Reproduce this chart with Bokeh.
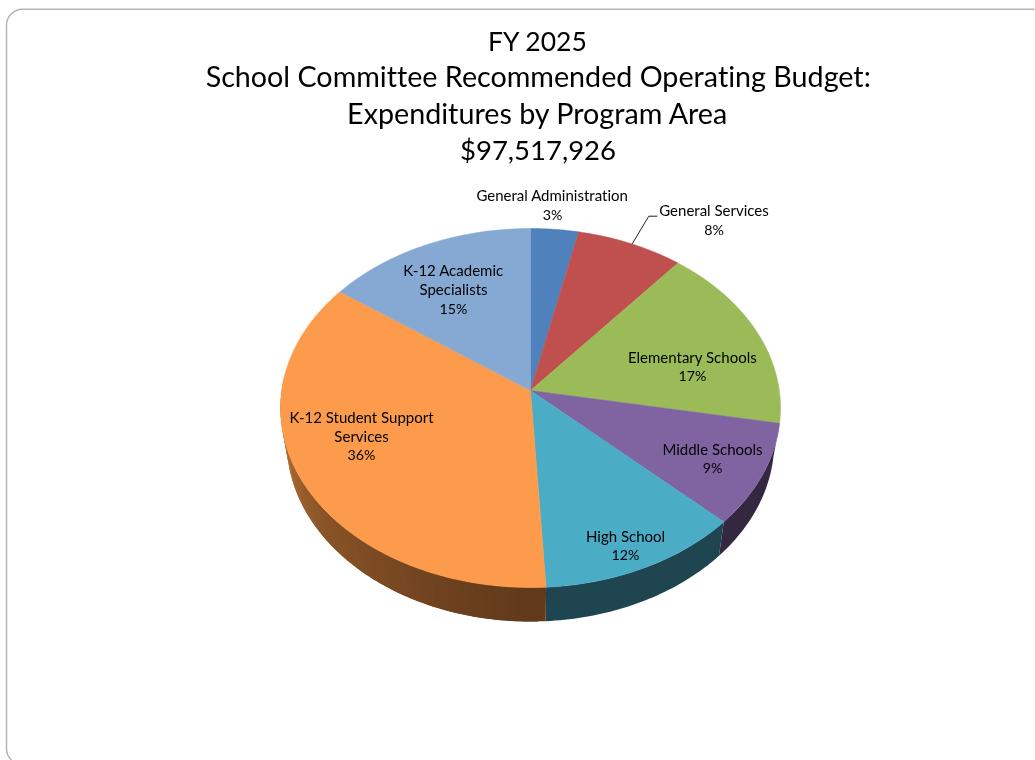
import math
from bokeh.plotting import figure
from bokeh.models import ColumnDataSource, Range1d
from bokeh.core.properties import value
from bokeh.embed import file_html
from bokeh.resources import INLINE

# ---- data ----
title_lines = ["FY 2025", "School Committee Recommended Operating Budget:",
               "Expenditures by Program Area", "$97,517,926"]
categories = ["General Administration", "General Services", "Elementary Schools", "Middle Schools",
              "High School", "K-12 Student Support Services", "K-12 Academic Specialists"]
shares = [3.4, 7.6, 16.9, 9.2, 12.0, 35.9, 15.0]

# ---- styles / layout ----
top_colors = ["#4f81bd", "#c0504d", "#9bbb59", "#8064a2", "#4bacc6", "#fc9b4b", "#86a9d4"]
side_stops = {3: [("#332840", 0.0), ("#332840", 1.0)],
              4: [("#1f4650", 0.0), ("#1f4650", 1.0)],
              5: [("#613a1b", 0.0), ("#6a3f1d", 0.15), ("#8a5428", 0.55), ("#a86830", 0.75), ("#c8803c", 1.0)]}
label_breaks = [["General Administration"], ["General Services"], ["Elementary Schools"], ["Middle Schools"],
                ["High School"], ["K-12 Student Support", "Services"], ["K-12 Academic", "Specialists"]]
label_x = [552, 713.5, 692, 712, 625, 361, 453]
label_y = [[194, 213.5], [209, 229], [356, 375], [448, 467], [535, 554], [416, 435, 454], [269, 288.5, 308]]
title_y = [40.5, 75.5, 112.5, 148.5]
title_px = [26.5, 28.7, 28.7, 27.5]
FONT = "Lato"
NAME_PX, PCT_PX = 15.0, 14.2

CX, CY, AY, BX, K, DEPTH, SHRINK = 530, 390, 177.8, 248.8, 0.0975, 34, 0.975


def project(frac):
    th = 2 * math.pi * frac
    u, v = math.sin(th), -math.cos(th)
    d = 1 - K * v
    return CX + BX * u / d, CY + AY * v / d


def lower(x, y):
    return CX + (x - CX) * SHRINK, y + DEPTH


def hex2rgb(h):
    return tuple(int(h[i:i + 2], 16) for i in (1, 3, 5))


def ramp(stops, t):
    for (c0, t0), (c1, t1) in zip(stops, stops[1:]):
        if t <= t1:
            f = (t - t0) / (t1 - t0)
            a, b = hex2rgb(c0), hex2rgb(c1)
            return "#%02x%02x%02x" % tuple(round(a[i] + (b[i] - a[i]) * f) for i in range(3))
    return stops[-1][0]


p = figure(width=1035, height=760, output_backend="svg", toolbar_location=None,
           x_range=Range1d(0, 1035), y_range=Range1d(760, 0), min_border=0,
           x_axis_type=None, y_axis_type=None, outline_line_color=None, tools="")
p.grid.visible = False
p.background_fill_color = "white"
p.styles = {"position": "fixed", "left": "0px", "top": "0px", "font-variant-ligatures": "none"}

# slide frame with rounded corners running off the page
r = 16
fx, fy = 6, 8.7
arc = lambda cx, cy, a0, a1: [(cx + r * math.cos(math.radians(a0 + (a1 - a0) * i / 12)),
                               cy + r * math.sin(math.radians(a0 + (a1 - a0) * i / 12))) for i in range(13)]
frame = arc(fx + r, 748, 125, 180) + arc(fx + r, fy + r, 180, 270) + [(1034, fy)]
p.line([q[0] for q in frame], [q[1] for q in frame], line_color="#b4b4b4", line_width=1.5)

total = sum(shares)
edges = [sum(shares[:i]) / total for i in range(len(shares) + 1)]

# side wall: overlapping strips painted from the far end to the near end
xs, ys, cs = [], [], []
for i in side_stops:
    a0, a1 = edges[i], edges[i + 1]
    n = 1 if i != 5 else 60
    end = min(a1, 0.76)
    for j in range(n - 1, -1, -1):
        f0 = a0 + (end - a0) * j / n
        f1 = end if j == n - 1 else a0 + (end - a0) * (j + 2) / n
        m = max(2, int((f1 - f0) * 360))
        top = [project(f0 + (f1 - f0) * q / m) for q in range(m + 1)]
        bot = [lower(*q) for q in reversed(top)]
        xs.append([q[0] for q in top + bot])
        ys.append([q[1] for q in top + bot])
        cs.append(ramp(side_stops[i], j / n))
p.patches("xs", "ys", source=ColumnDataSource(dict(xs=xs, ys=ys, c=cs)), fill_color="c", line_color=None)

# top face
xs, ys = [], []
for i in range(len(shares)):
    n = max(6, int(shares[i] * 4))
    pts = [project(edges[i] + (edges[i + 1] - edges[i]) * j / n) for j in range(n + 1)]
    xs.append([CX] + [q[0] for q in pts])
    ys.append([CY] + [q[1] for q in pts])
p.patches("xs", "ys", source=ColumnDataSource(dict(xs=xs, ys=ys, c=top_colors)),
          fill_color="c", line_color="c", line_width=0.5)

# leader line of General Services
p.line([631.7, 648.3, 656.7], [243.3, 215.7, 215.7], line_color="#222222", line_width=1)

# title
p.text(x=[537.5] * 4, y=title_y, text=title_lines, text_font=value(FONT),
       text_font_size=[f"{s}px" for s in title_px],
       text_align="center", text_baseline="middle", text_color="#000000")

# labels
tx, ty, tt, ts = [], [], [], []
for i, names in enumerate(label_breaks):
    rows = names + [f"{round(shares[i])}%"]
    for k, (s, y) in enumerate(zip(rows, label_y[i])):
        tx.append(label_x[i])
        ty.append(y)
        tt.append(s)
        ts.append(f"{PCT_PX if k == len(rows) - 1 else NAME_PX}px")
p.text(x=tx, y=ty, text=tt, text_font=value(FONT), text_font_size=ts,
       text_align="center", text_baseline="middle", text_color="#000000")

open("out.html", "w").write(file_html(p, INLINE))
